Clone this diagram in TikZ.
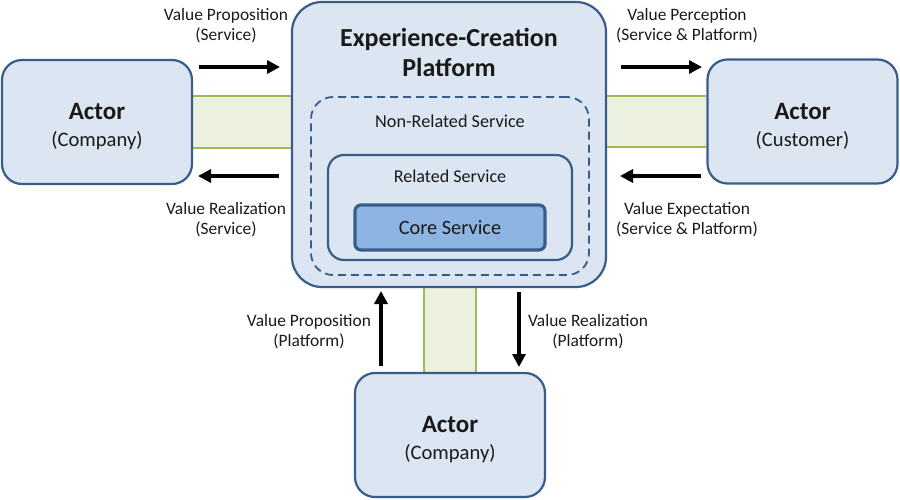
\documentclass[tikz,border=0pt]{standalone}
\usepackage{fontspec}
\setmainfont{Carlito}
\usetikzlibrary{arrows.meta,backgrounds,calc}
\definecolor{boxfill}{HTML}{DCE6F2}
\definecolor{boxline}{HTML}{385D8A}
\definecolor{corefill}{HTML}{8EB4E3}
\definecolor{bandfill}{HTML}{EBF1DE}
\definecolor{bandline}{HTML}{9BBB59}
\definecolor{txt}{HTML}{1A1A1A}
\tikzset{
  actor/.style={draw=boxline, fill=boxfill, line width=2.2pt, rounded corners=20pt,
    minimum width=190pt, minimum height=124pt, align=center, text=txt, inner sep=0pt},
  platform/.style={draw=boxline, fill=boxfill, line width=2.2pt, rounded corners=30pt,
    minimum width=314pt, minimum height=285pt, inner sep=0pt},
  dashbox/.style={draw=boxline, dash pattern=on 8pt off 5pt, line width=1.8pt, rounded corners=22pt,
    minimum width=278pt, minimum height=178pt, inner sep=0pt},
  relbox/.style={draw=boxline, line width=2.2pt, rounded corners=16pt,
    minimum width=244pt, minimum height=105pt, inner sep=0pt},
  corebox/.style={draw=boxline, fill=corefill, line width=3.2pt, rounded corners=6pt,
    minimum width=190pt, minimum height=45pt, inner sep=0pt, text=txt, font=\fontsize{20.3}{22}\selectfont},
  lbl/.style={align=center, text=txt, font=\fontsize{17.4}{20}\selectfont, inner sep=0pt},
  ttl/.style={text=txt, inner sep=0pt},
  arr/.style={line width=3.8pt, -{Triangle[length=13pt,width=13pt]}, black},
  band/.style={fill=bandfill, draw=none},
  bandedge/.style={draw=bandline, line width=1.8pt},
}
\newcommand{\actortext}[1]{{\fontsize{25}{28}\selectfont\bfseries\rule{0pt}{26pt}Actor}\\[11pt]{\fontsize{20.6}{22}\selectfont #1}}
\begin{document}
\begin{tikzpicture}[x=1pt,y=-1pt]
\useasboundingbox (0,0) rectangle (900,500);
% main boxes
\node[platform] (P) at (449,144.5) {};
\node[actor] (L) at (97,122) {\actortext{(Company)}};
\node[actor] (R) at (802.5,121.5) {\actortext{(Customer)}};
\node[actor] (B) at (450,435) {\actortext{(Company)}};
\node[dashbox] (D) at (450,186) {};
\node[relbox] (S) at (450,207.5) {};
\node[corebox] (C) at (450,227.5) {Core Service};
% titles
\node[ttl, align=center, font=\fontsize{26}{30}\selectfont\bfseries] (T) at (449,52) {Experience-Creation\\Platform};
\node[ttl, font=\fontsize{18.2}{20}\selectfont] (TN) at (450,121) {Non-Related Service};
\node[ttl, font=\fontsize{18.1}{20}\selectfont] (TS) at (450,176) {Related Service};
% bands
\begin{pgfonlayer}{background}
\fill[band] ($(L.east)+(0,-26)$) rectangle ($(P.west |- L.east)+(0,26)$);
\draw[bandedge] ($(L.east)+(0,-26)$) -- ($(P.west |- L.east)+(0,-26)$);
\draw[bandedge] ($(L.east)+(0,26)$) -- ($(P.west |- L.east)+(0,26)$);
\fill[band] ($(R.west)+(0,-25.5)$) rectangle ($(P.east |- R.west)+(0,25.5)$);
\draw[bandedge] ($(R.west)+(0,-25.5)$) -- ($(P.east |- R.west)+(0,-25.5)$);
\draw[bandedge] ($(R.west)+(0,25.5)$) -- ($(P.east |- R.west)+(0,25.5)$);
\fill[band] ($(B.north)+(-26,0)$) rectangle ($(P.south -| B.north)+(26,0)$);
\draw[bandedge] ($(B.north)+(-26,0)$) -- ($(P.south -| B.north)+(-26,0)$);
\draw[bandedge] ($(B.north)+(26,0)$) -- ($(P.south -| B.north)+(26,0)$);
\end{pgfonlayer}
% arrow end points
\coordinate (a1s) at (199,67);  \coordinate (a1e) at (280,67);
\coordinate (a2s) at (279,176); \coordinate (a2e) at (198,176);
\coordinate (a3s) at (621,67);  \coordinate (a3e) at (702,67);
\coordinate (a4s) at (701,176); \coordinate (a4e) at (620,176);
\coordinate (a5s) at (381,366); \coordinate (a5e) at (381,291);
\coordinate (a6s) at (519,292); \coordinate (a6e) at (519,367);
\draw[arr] (a1s) -- (a1e);
\draw[arr] (a2s) -- (a2e);
\draw[arr] (a3s) -- (a3e);
\draw[arr] (a4s) -- (a4e);
\draw[arr] (a5s) -- (a5e);
\draw[arr] (a6s) -- (a6e);
% labels
\node[lbl] (l1) at (226,26) {Value Proposition\\(Service)};
\node[lbl] (l2) at (226,220) {Value Realization\\(Service)};
\node[lbl] (l3) at (687,26) {Value Perception\\(Service \& Platform)};
\node[lbl] (l4) at (687,220) {Value Expectation\\(Service \& Platform)};
\node[lbl] (l5) at (309,332) {Value Proposition\\(Platform)};
\node[lbl] (l6) at (588,332) {Value Realization\\(Platform)};
\end{tikzpicture}
\end{document}
